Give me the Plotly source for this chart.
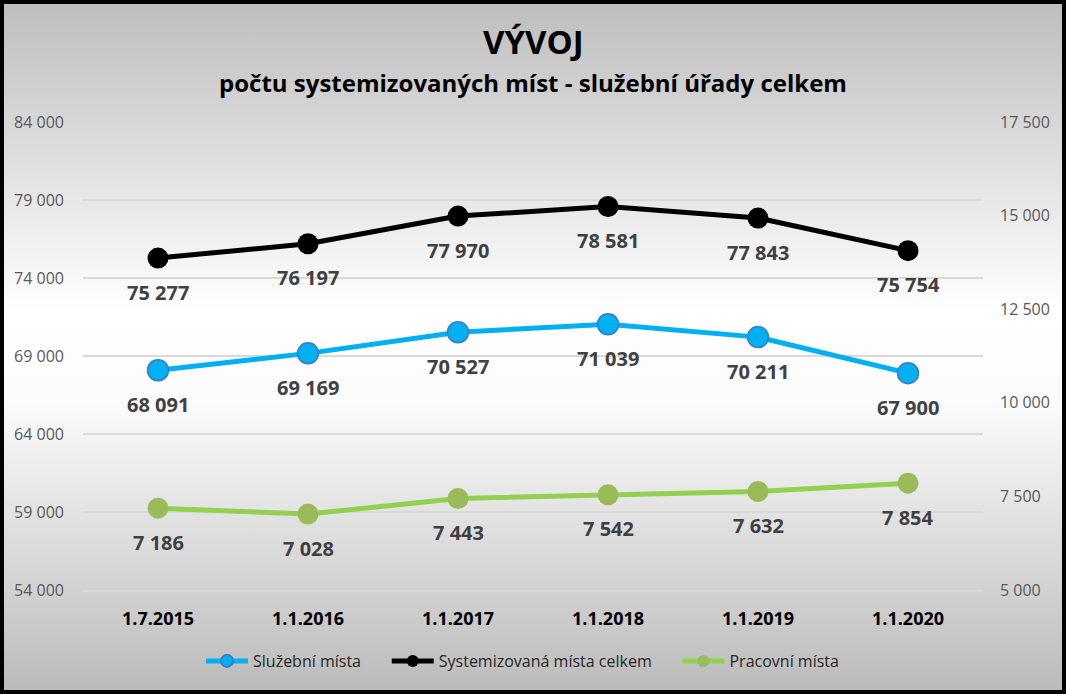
import base64
import plotly.graph_objects as go

# data
dates = ['1.7.2015', '1.1.2016', '1.1.2017', '1.1.2018', '1.1.2019', '1.1.2020']
sluzebni = [68091, 69169, 70527, 71039, 70211, 67900]
systemizovana = [75277, 76197, 77970, 78581, 77843, 75754]
pracovni = [7186, 7028, 7443, 7542, 7632, 7854]

left_ticks = [54000, 59000, 64000, 69000, 74000, 79000, 84000]
right_ticks = [5000, 7500, 10000, 12500, 15000, 17500]


def fmt(v):
    return f"{v:,}".replace(",", " ")


font_main = "Open Sans"

# vertical gradient background (grey top/bottom, white middle)
svg = """<svg xmlns='http://www.w3.org/2000/svg' width='1066' height='694' preserveAspectRatio='none'>
<defs><linearGradient id='g' x1='0' y1='0' x2='0' y2='1'>
<stop offset='0%' stop-color='#bdbdbd'/><stop offset='45%' stop-color='#ffffff'/>
<stop offset='58%' stop-color='#fbfbfb'/><stop offset='100%' stop-color='#bababa'/></linearGradient></defs>
<rect width='1066' height='694' fill='url(#g)'/></svg>"""
bg = "data:image/svg+xml;base64," + base64.b64encode(svg.encode()).decode()

fig = go.Figure()

series = [
    ('Služební místa', sluzebni, '#00B0F0', dict(color='#00B0F0', line=dict(color='#3A7BC8', width=1.5)), 'y'),
    ('Systemizovaná místa celkem', systemizovana, '#000000', dict(color='#000000'), 'y'),
    ('Pracovní místa', pracovni, '#92D050', dict(color='#9BBB59'), 'y2'),
]

annotations = []
for name, vals, col, mk, ax in series:
    fig.add_trace(go.Scatter(
        x=dates, y=vals, name=name + '\u00a0' * 5, mode='lines+markers', yaxis=ax,
        line=dict(color=col, width=5), marker=dict(size=21, **mk),
    ))
    for d, v in zip(dates, vals):
        annotations.append(dict(
            x=d, y=v, xref='x', yref=ax, text=fmt(v), showarrow=False,
            yshift=-34, yanchor='middle',
            font=dict(family=font_main, size=20, color='#404040', weight='bold'),
        ))

annotations.append(dict(text='VÝVOJ', xref='paper', yref='paper', x=0.5, y=1 + (122 - 42) / 468,
                        showarrow=False, yanchor='middle',
                        font=dict(family=font_main, size=33, color='#000000', weight='bold')))
annotations.append(dict(text='počtu systemizovaných míst - služební úřady celkem', xref='paper', yref='paper',
                        x=0.5, y=1 + (122 - 82) / 468, showarrow=False, yanchor='middle',
                        font=dict(family=font_main, size=24, color='#000000', weight='bold')))

fig.update_layout(
    width=1066, height=694,
    separators=', ',
    paper_bgcolor='rgba(0,0,0,0)', plot_bgcolor='rgba(0,0,0,0)',
    margin=dict(l=83, r=83, t=122, b=104),
    font=dict(family=font_main, color='#404040'),
    showlegend=True,
    legend=dict(orientation='h', x=0.5, xanchor='center', y=(590 - 661) / 468, yanchor='middle',
                font=dict(size=16, color='#262626'), traceorder='normal',
                itemsizing='constant', itemwidth=42, bgcolor='rgba(0,0,0,0)'),
    xaxis=dict(type='category', range=[-0.5, 5.5], showgrid=False,
               showline=True, linecolor='#d9d9d9', linewidth=1.5, ticks='',
               tickfont=dict(size=18, color='#000000', weight='bold'),
               ticklabelstandoff=12),
    yaxis=dict(range=[54000, 84000], tickvals=left_ticks, tickformat=',d',
               showgrid=False, zeroline=False, showline=False, ticks='',
               minor=dict(tickvals=left_ticks[1:-1], showgrid=True, gridcolor='#d9d9d9',
                          gridwidth=1.5, ticks=''),
               tickfont=dict(size=16, color='#595959'), ticklabelstandoff=18),
    yaxis2=dict(range=[5000, 17500], tickvals=right_ticks, tickformat=',d',
                overlaying='y', side='right', showgrid=False, zeroline=False,
                ticks='', tickfont=dict(size=16, color='#595959'),
                ticklabelstandoff=16),
    annotations=annotations,
    images=[dict(source=bg, xref='paper', yref='paper', x=-83 / 900, y=1 + 122 / 468,
                 sizex=1066 / 900, sizey=694 / 468, sizing='stretch',
                 xanchor='left', yanchor='top', layer='below')],
    shapes=[dict(type='rect', xref='paper', yref='paper',
                 x0=-81 / 900, x1=1 + 81 / 900, y0=-102 / 468, y1=1 + 120 / 468,
                 line=dict(color='#000000', width=4), fillcolor='rgba(0,0,0,0)')],
)

fig.write_html("out.html", config={'displayModeBar': False},
               post_script="document.body.style.margin='0';")
